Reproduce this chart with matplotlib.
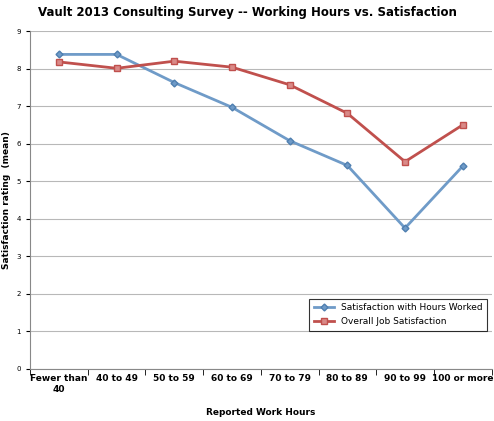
import matplotlib.pyplot as plt
import numpy as np

# --- Data ---
categories = ["Fewer than\n40", "40 to 49", "50 to 59", "60 to 69", "70 to 79",
              "80 to 89", "90 to 99", "100 or more"]
hours_sat = [8.38, 8.38, 7.63, 6.97, 6.08, 5.42, 3.75, 5.40]
job_sat = [8.18, 8.01, 8.20, 8.04, 7.57, 6.81, 5.52, 6.50]

blue = "#6f9bc8"
red = "#c0504d"

fig = plt.figure(figsize=(4.94, 4.21), dpi=100)
ax = fig.add_axes([0.061, 0.124, 0.934, 0.802])

x = np.arange(len(categories))
ax.plot(x, hours_sat, color=blue, lw=2, marker="D", ms=3.5,
        mfc=blue, mec="#4f7fb0", label="Satisfaction with Hours Worked")
ax.plot(x, job_sat, color=red, lw=2, marker="s", ms=4.5,
        mfc="#d98a88", mec=red, label="Overall Job Satisfaction")

ax.set_xlim(-0.5, len(categories) - 0.5)
ax.set_ylim(0, 9)
ax.set_yticks(range(10))
ax.set_xticks(x)
ax.set_xticklabels(categories, fontsize=6.5, fontweight="bold")
ax.tick_params(axis="y", labelsize=5, length=3)
ax.tick_params(axis="x", length=0, pad=4)
ax.set_xticks(np.arange(-0.5, len(categories)), minor=True)
ax.tick_params(axis="x", which="minor", length=4)
ax.grid(axis="y", color="#b8b8b8", lw=0.8)
ax.set_axisbelow(True)
for s in ["top", "right"]:
    ax.spines[s].set_visible(False)
ax.spines["left"].set_color("#888888")
ax.spines["bottom"].set_color("#888888")

ax.set_ylabel("Satisfaction rating  (mean)", fontsize=6.5, fontweight="bold")
ax.set_xlabel("Reported Work Hours", fontsize=6.5, fontweight="bold", labelpad=10)
fig.suptitle("Vault 2013 Consulting Survey -- Working Hours vs. Satisfaction",
             fontsize=8.5, fontweight="bold", y=0.985)

leg = ax.legend(loc="lower right", bbox_to_anchor=(1.0, 0.1), fontsize=6.5,
                frameon=True, fancybox=False, edgecolor="black",
                borderpad=0.5, handlelength=2.2)
leg.get_frame().set_linewidth(0.8)

fig.savefig("out.png", dpi=100)
